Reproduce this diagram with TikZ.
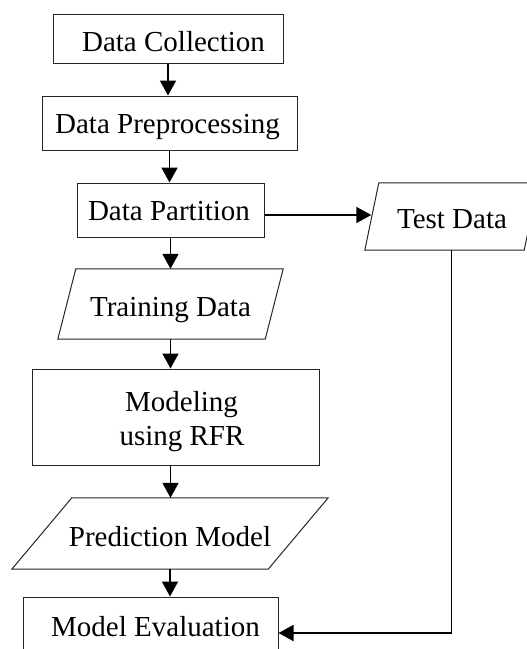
\documentclass[tikz,border=0pt]{standalone}
\usepackage{fontspec}
\setmainfont{Liberation Serif}
\usetikzlibrary{arrows.meta,calc}
\begin{document}
\begin{tikzpicture}[x=1pt,y=-1pt,
  box/.style={draw=black!85, line width=1pt, inner sep=0pt},
  holder/.style={inner sep=0pt},
  outline/.style={draw=black!85, line width=1pt},
  lbl/.style={font=\fontsize{29}{33}\selectfont, inner sep=0pt, anchor=base},
  conn/.style={line width=1.8pt, -{Triangle[length=15pt,width=16pt]}}
]
\useasboundingbox (0,0) rectangle (527,649);

% rectangles
\node[box, minimum width=230pt, minimum height=49pt] (Collect) at (168,38.5) {};
\node[box, minimum width=255pt, minimum height=54pt] (Prep) at (169.5,123) {};
\node[box, minimum width=187pt, minimum height=54pt] (Partition) at (170.5,210) {};
\node[box, minimum width=287pt, minimum height=96pt] (Modeling) at (175.5,417) {};
\node[box, minimum width=255pt, minimum height=72pt] (Eval) at (150.5,633) {};

% parallelogram holders
\node[holder, minimum width=173pt, minimum height=67pt] (Test) at (451.5,216.5) {};
\node[holder, minimum width=225pt, minimum height=70pt] (Train) at (170.5,304) {};
\node[holder, minimum width=316pt, minimum height=71pt] (Predict) at (170,533.5) {};

\draw[outline] ($(Test.north west)+(14,0)$) -- (Test.north east) -- ($(Test.south east)+(-14,0)$) -- (Test.south west) -- cycle;
\draw[outline] ($(Train.north west)+(18,0)$) -- (Train.north east) -- ($(Train.south east)+(-18,0)$) -- (Train.south west) -- cycle;
\draw[outline] ($(Predict.north west)+(60,0)$) -- (Predict.north east) -- ($(Predict.south east)+(-60,0)$) -- (Predict.south west) -- cycle;

% texts
\node[lbl] (tCollect) at (173.5,51.7) {Data Collection};
\node[lbl] (tPrep) at (167.5,133.3) {Data Preprocessing};
\node[lbl] (tPartition) at (169,220.7) {Data Partition};
\node[lbl] (tTest) at (452,228.3) {Test Data};
\node[lbl] (tTrain) at (170.5,316) {Training Data};
\node[lbl] (tModel1) at (181.5,411.7) {Modeling};
\node[lbl] (tModel2) at (182,445) {using RFR};
\node[lbl] (tPredict) at (170,546.7) {Prediction Model};
\node[lbl] (tEval) at (155.5,636.7) {Model Evaluation};

% connectors
\coordinate (tdin) at (371.3,215);
\draw[conn] (Collect.south) -- (Collect.south |- Prep.north);
\draw[conn] (Prep.south) -- (Prep.south |- Partition.north);
\draw[conn] (Partition.south) -- (Partition.south |- Train.north);
\draw[conn] (Train.south) -- (Train.south |- Modeling.north);
\draw[conn] (Train.south |- Modeling.south) -- (Train.south |- Predict.north);
\draw[conn] (Predict.south) -- (Predict.south |- Eval.north);
\draw[conn] (Partition.east |- tdin) -- (tdin);
\draw[conn] (Test.south) |- (Eval.east);
\end{tikzpicture}
\end{document}
